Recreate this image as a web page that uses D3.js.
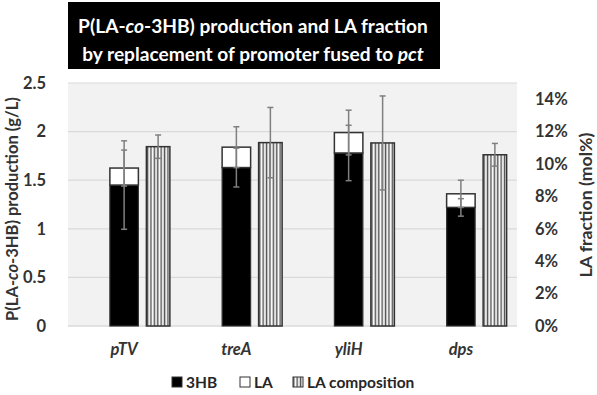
<!DOCTYPE html>
<html><head><meta charset="utf-8">
<script src="https://cdn.jsdelivr.net/npm/d3@7"></script>
<style>
body{margin:0;background:#fff;}
svg text{font-family:Lato,sans-serif;font-weight:bold;}
</style></head>
<body><svg id="c" width="597" height="395"></svg>
<script>
const categories = ["pTV", "treA", "yliH", "dps"];
const hb3 = [1.45, 1.63, 1.78, 1.22];
const hb3Err = [0.455, 0.20, 0.285, 0.09];
const la = [0.175, 0.21, 0.21, 0.14];
const laErr = [0.185, 0.21, 0.23, 0.14];
const laComp = [0.1107, 0.1132, 0.1130, 0.1057];
const laCompErr = [0.0072, 0.0217, 0.029, 0.0070];
const leftTicks = [0, 0.5, 1, 1.5, 2, 2.5];
const rightTicks = [0, 0.02, 0.04, 0.06, 0.08, 0.10, 0.12, 0.14];
const legendLabels = ["3HB", "LA", "LA composition"];

const FONT = "Lato";
const svg = d3.select("#c");
const L = 68, R = 517, T = 83, B = 326;
const x = d3.scaleBand().domain(categories).range([L, R]).padding(0);
const yL = d3.scaleLinear().domain([0, 2.5]).range([B, T]);
const yR = d3.scaleLinear().domain([0, 0.15]).range([B, T]);
const txt = "#333";

function fit(sel, w) {
  const cur = sel.node().getComputedTextLength();
  const fs = parseFloat(sel.attr("font-size"));
  sel.attr("font-size", (fs * w / cur).toFixed(2));
}

// pattern
const defs = svg.append("defs");
const pat = defs.append("pattern").attr("id", "stripes").attr("patternUnits", "userSpaceOnUse")
  .attr("width", 3.4).attr("height", 10);
pat.append("rect").attr("width", 3.4).attr("height", 10).attr("fill", "#fff");
pat.append("rect").attr("x", 0.6).attr("width", 1.5).attr("height", 10).attr("fill", "#555");

// plot background
svg.append("rect").attr("x", L).attr("y", T).attr("width", R - L).attr("height", B - T).attr("fill", "#f2f2f2");
// gridlines
svg.append("g").selectAll("line").data(leftTicks).join("line")
  .attr("x1", L).attr("x2", R).attr("y1", d => yL(d)).attr("y2", d => yL(d))
  .attr("stroke", "#d9d9d9").attr("stroke-width", 1.2);

function styleAxis(g, italic) {
  g.select(".domain").remove();
  g.selectAll("text").attr("font-size", 16.5).attr("fill", txt).attr("font-family", FONT)
    .attr("font-weight", "bold").attr("font-style", italic ? "italic" : null);
}
// left axis
const gL = svg.append("g").attr("transform", `translate(${L},0)`)
  .call(d3.axisLeft(yL).tickValues(leftTicks).tickFormat(d => d).tickSize(0).tickPadding(22));
styleAxis(gL, false);

// right axis
const gR = svg.append("g").attr("transform", `translate(${R},0)`)
  .call(d3.axisRight(yR).tickValues(rightTicks).tickFormat(d3.format(".0%")).tickSize(0).tickPadding(18));
styleAxis(gR, false);

// category axis
const gX = svg.append("g").attr("transform", `translate(0,${B})`)
  .call(d3.axisBottom(x).tickSize(0).tickPadding(17));
styleAxis(gX, true);
svg.append("line").attr("x1", L).attr("x2", R).attr("y1", B).attr("y2", B).attr("stroke", "#d9d9d9").attr("stroke-width", 1.2);

const cx = c => x(c) + x.bandwidth() / 2;
const bw1 = 28.5, bw2 = 23.5, off2 = 34;
const bars = svg.append("g");
// 3HB
bars.selectAll(".hb").data(categories).join("rect")
  .attr("x", c => cx(c) - bw1 / 2).attr("width", bw1)
  .attr("y", (c, i) => yL(hb3[i])).attr("height", (c, i) => yL(0) - yL(hb3[i]))
  .attr("fill", "#000").attr("stroke", "#333").attr("stroke-width", 1.2);
// LA
bars.selectAll(".la").data(categories).join("rect")
  .attr("x", c => cx(c) - bw1 / 2).attr("width", bw1)
  .attr("y", (c, i) => yL(hb3[i] + la[i])).attr("height", (c, i) => yL(hb3[i]) - yL(hb3[i] + la[i]))
  .attr("fill", "#fff").attr("stroke", "#333").attr("stroke-width", 1.5);
// LA composition
bars.selectAll(".lc").data(categories).join("rect")
  .attr("x", c => cx(c) + off2 - bw2 / 2).attr("width", bw2)
  .attr("y", (c, i) => yR(laComp[i])).attr("height", (c, i) => yR(0) - yR(laComp[i]))
  .attr("fill", "url(#stripes)").attr("stroke", "#333").attr("stroke-width", 1.5);

// error bars
function errBar(g, xc, y1, y2) {
  const col = "#7f7f7f", cw = 3;
  g.append("line").attr("x1", xc).attr("x2", xc).attr("y1", y1).attr("y2", y2).attr("stroke", col).attr("stroke-width", 1.5);
  [y1, y2].forEach(yy => g.append("line").attr("x1", xc - cw).attr("x2", xc + cw).attr("y1", yy).attr("y2", yy)
    .attr("stroke", col).attr("stroke-width", 1.5));
}
const eg = svg.append("g");
categories.forEach((c, i) => {
  errBar(eg, cx(c), yL(hb3[i] + hb3Err[i]), yL(hb3[i] - hb3Err[i]));
  const top = hb3[i] + la[i];
  errBar(eg, cx(c), yL(top + laErr[i]), yL(top - laErr[i]));
  errBar(eg, cx(c) + off2, yR(laComp[i] + laCompErr[i]), yR(laComp[i] - laCompErr[i]));
});

// axis titles
const at1 = svg.append("text").attr("transform", `translate(18,209) rotate(-90)`).attr("text-anchor", "middle")
  .attr("font-size", 15.5).attr("fill", txt)
  .call(t => { t.append("tspan").text("P(LA-"); t.append("tspan").attr("font-style", "italic").text("co"); t.append("tspan").text("-3HB) production (g/L)"); });
fit(at1, 224);
const at2 = svg.append("text").attr("transform", `translate(592,205) rotate(-90)`).attr("text-anchor", "middle")
  .attr("font-size", 15.5).attr("fill", txt).text("LA fraction (mol%)");
fit(at2, 145);

// title box
svg.append("rect").attr("x", 68).attr("y", 2).attr("width", 372).attr("height", 67).attr("fill", "#000");
const t1 = svg.append("text").attr("x", 253).attr("y", 33).attr("text-anchor", "middle").attr("font-size", 21)
  .attr("fill", "#fff");
t1.append("tspan").text("P(LA-"); t1.append("tspan").attr("font-style", "italic").text("co"); t1.append("tspan").text("-3HB) production and LA fraction");
fit(t1, 350);
const t2 = svg.append("text").attr("x", 253).attr("y", 61).attr("text-anchor", "middle").attr("font-size", 21)
  .attr("fill", "#fff");
t2.append("tspan").text("by replacement of promoter fused to "); t2.append("tspan").attr("font-style", "italic").text("pct");
t2.attr("font-size", t1.attr("font-size"));

// legend
const legX = [172, 240, 293];
const fills = ["#000", "#fff", "url(#stripes)"];
const lg = svg.append("g");
legendLabels.forEach((lab, i) => {
  lg.append("rect").attr("x", legX[i]).attr("y", 377).attr("width", 10).attr("height", 10)
    .attr("fill", fills[i]).attr("stroke", "#333").attr("stroke-width", 1);
  lg.append("text").attr("x", legX[i] + 14).attr("y", 387.5).attr("font-size", 15.5).attr("fill", "#262626").text(lab);
});
</script></body></html>
